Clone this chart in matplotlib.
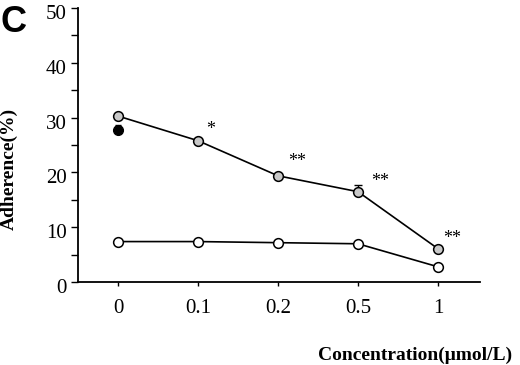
import matplotlib
matplotlib.use('Agg')
import matplotlib.pyplot as plt
import matplotlib.transforms as mtransforms
import numpy as np

plt.rc('font', family='Liberation Serif', size=13)

conc = ['0', '0.1', '0.2', '0.5', '1']
gray = [30.3, 25.8, 19.4, 16.5, 6.1]
gray_err = [0, 0, 0, 1.2, 0]
white = [7.4, 7.4, 7.2, 7.0, 2.8]
black = [27.8]
black_err = [0.9]
stars = ['', '*', '**', '**', '**']
star_dx = [0, 13, 19, 22, 14]
star_dy = [0, 15, 18, 14, 14]

x = np.arange(len(conc))

fig = plt.figure(figsize=(5.2, 3.65), dpi=100)
ax = fig.add_axes([0.15, 0.227, 0.773, 0.751])

ax.errorbar(x, gray, yerr=[np.zeros(5), gray_err], fmt='none', ecolor='k',
            elinewidth=1, capsize=3, zorder=2)
ax.plot(x, gray, 'k-', lw=1.2, zorder=2)
ax.plot(x, gray, 'o', ms=7, mfc='#c8c8c8', mec='k', mew=1.1, zorder=3)
ax.plot(x, white, 'k-', lw=1.2, zorder=2)
ax.plot(x, white, 'o', ms=7, mfc='white', mec='k', mew=1.1, zorder=3)
ax.errorbar(x[:1], black, yerr=[[0], black_err], fmt='o', ms=7, mfc='k', mec='k',
            ecolor='k', capsize=2, zorder=3)

for i, s in enumerate(stars):
    if s:
        ax.annotate(s, (x[i], gray[i]), xytext=(star_dx[i], star_dy[i] - 4),
                    textcoords='offset pixels', ha='center', va='center', fontsize=13)

ax.set_xlim(-0.5, 4.525)
ax.set_ylim(0, 50)
ax.set_xticks(x)
ax.set_xticklabels(conc)
ax.set_yticks(range(0, 51, 10))
ax.set_yticks(range(5, 50, 10), minor=True)
ax.spines['top'].set_visible(False)
ax.spines['right'].set_visible(False)
ax.spines['left'].set_linewidth(1.3)
ax.spines['bottom'].set_linewidth(1.3)
ax.tick_params(axis='y', which='both', direction='out', length=5, width=1, pad=3, labelsize=15)
ax.tick_params(axis='x', direction='out', length=3, width=1, pad=9, labelsize=15)
shift = mtransforms.ScaledTranslation(0, -4 / 100, fig.dpi_scale_trans)
for lab in ax.get_yticklabels():
    lab.set_transform(lab.get_transform() + shift)

fig.text(0.018, 0.537, 'Adherence(%)', rotation=90, ha='center', va='center',
         fontsize=14, fontweight='bold')
fig.text(0.985, 0.027, 'Concentration(\u03bcmol/L)', ha='right', va='center',
         fontsize=14, fontweight='bold')
fig.text(0.0, 0.937, 'C', ha='left', va='center', fontsize=26, fontweight='bold',
         family='Liberation Sans')

fig.savefig('out.png', dpi=100)
